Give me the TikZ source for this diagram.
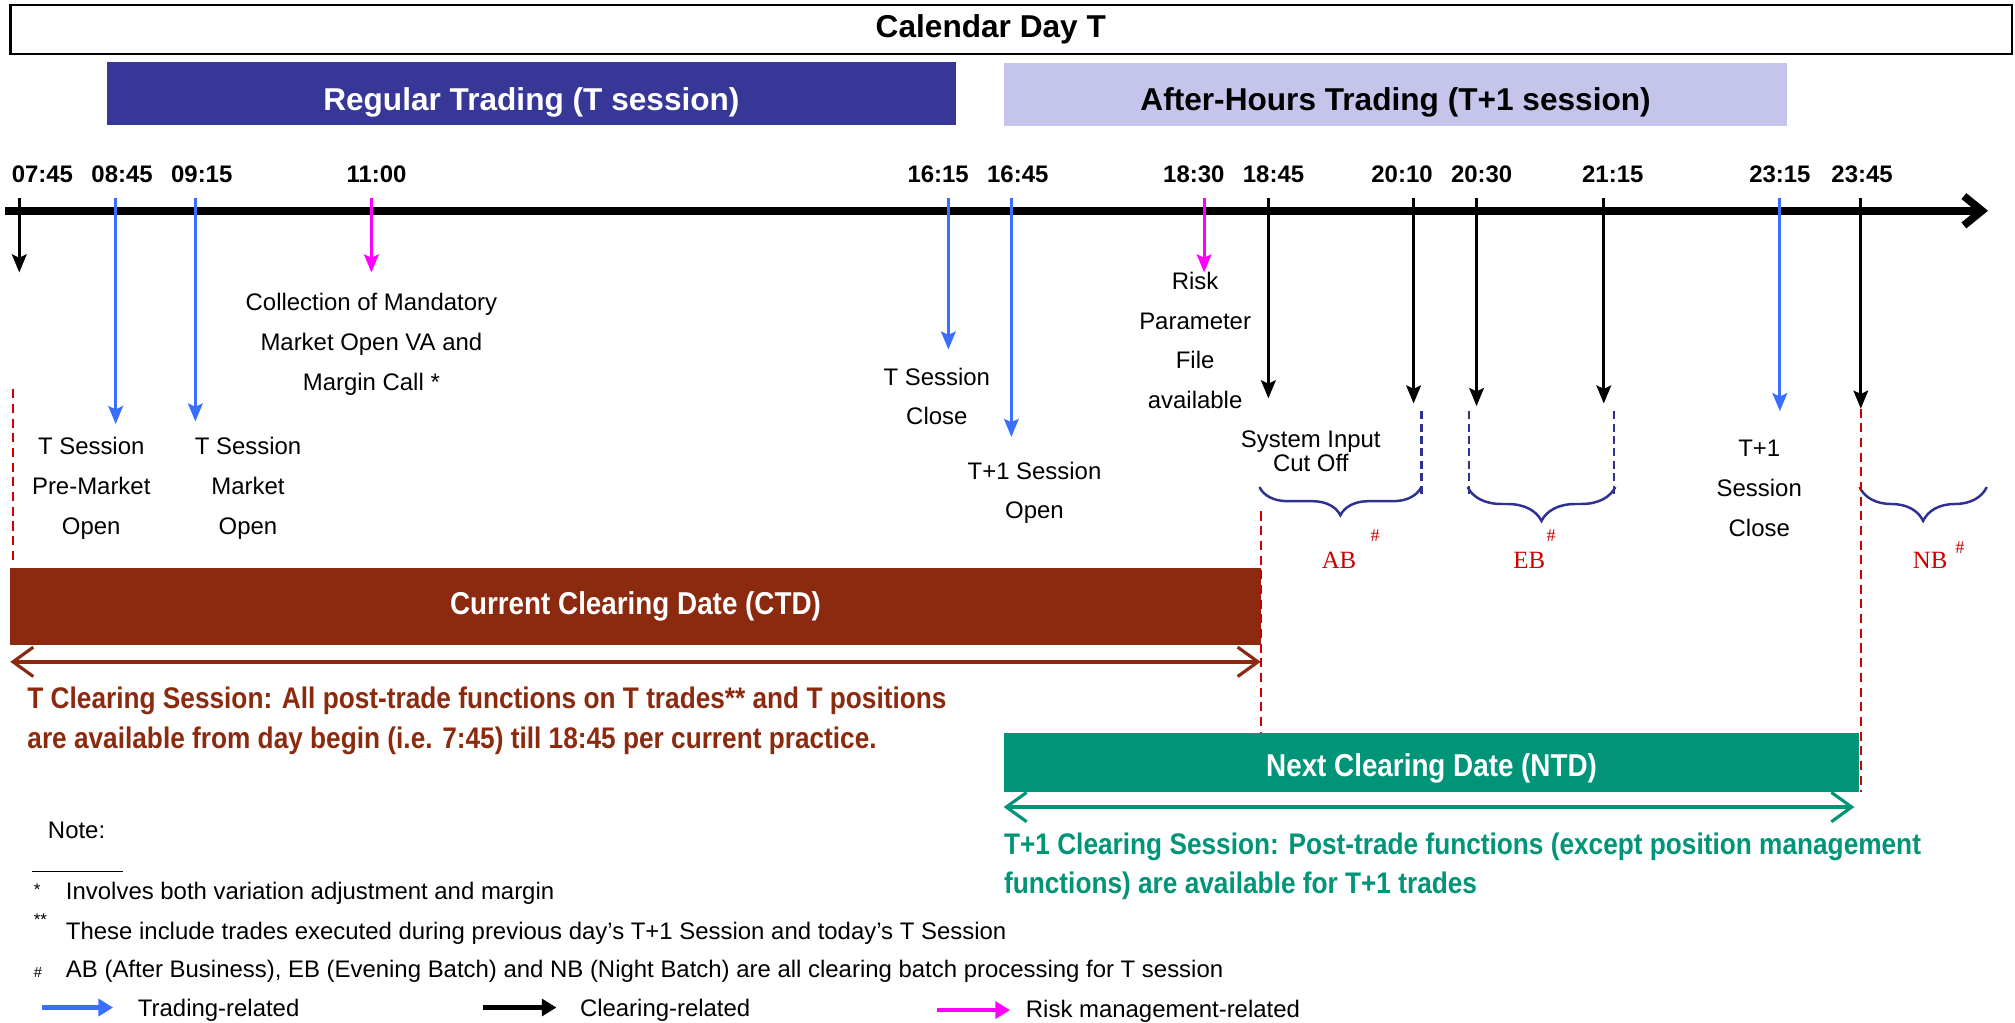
\documentclass[tikz,border=0pt]{standalone}
\usepackage{fontspec}
\setmainfont{Liberation Sans}
\newfontfamily\narrowfont[FakeStretch=0.88]{Liberation Sans}
\newfontfamily\batchfont{Liberation Serif}
\usetikzlibrary{positioning,calc,arrows.meta,decorations.pathreplacing}

\definecolor{regblue}{RGB}{55,55,151}
\definecolor{ahlav}{RGB}{197,197,235}
\definecolor{ctdbrown}{RGB}{139,42,14}
\definecolor{ntdgreen}{RGB}{0,148,120}
\definecolor{trdblue}{RGB}{58,110,255}
\definecolor{riskmag}{RGB}{255,0,255}
\definecolor{batchnavy}{RGB}{46,49,146}
\definecolor{batchred}{RGB}{204,0,0}

\begin{document}
\begin{tikzpicture}[x=0.02cm,y=-0.02cm,
band/.style={inner sep=0pt,outer sep=0pt,font=\bfseries\fontsize{14}{16}\selectfont},
clrband/.style={inner sep=0pt,outer sep=0pt,text=white,font=\narrowfont\bfseries\fontsize{14}{16}\selectfont},
clrnote/.style={anchor=west,align=left,inner sep=0pt,font=\narrowfont\bfseries\fontsize{13.2}{17.6}\selectfont},
evt/.style={align=center,inner sep=0pt,font=\fontsize{10.6}{17.6}\selectfont},
hour/.style={anchor=base,inner sep=0pt,font=\bfseries\fontsize{10.6}{12}\selectfont},
droparrow/.style={-{Stealth[length=8pt,width=6.5pt,inset=1.5pt]},line width=1.3pt},
clrspan/.style={{Straight Barb[length=9pt,width=13pt,line width=1.4pt]}-{Straight Barb[length=9pt,width=13pt,line width=1.4pt]},line width=2pt},
batchline/.style={batchnavy,line width=1.1pt,dash pattern=on 3.5pt off 2pt},
cutline/.style={batchred,line width=0.9pt,dash pattern=on 4pt off 2.5pt},
brc/.style={batchnavy,line width=1.1pt,decorate,decoration={brace,mirror,amplitude=#1}},
bname/.style={batchred,font=\batchfont\fontsize{11}{12}\selectfont,inner sep=0pt},
bsup/.style={batchred,font=\batchfont\fontsize{8}{8}\selectfont,inner sep=0pt},
foot/.style={anchor=west,inner sep=0pt,font=\fontsize{10.6}{12}\selectfont},
fnmark/.style={anchor=west,inner sep=0pt,font=\fontsize{7.5}{8}\selectfont},
legarrow/.style={-{Triangle[length=6.5pt,width=7.5pt]},line width=2pt}]
\useasboundingbox (0,0) rectangle (1568,796);

% header bands
\node[band,draw,line width=1pt,minimum width=31.16cm,minimum height=0.76cm] (calday) at (787,23) {\hspace*{-0.64cm}Calendar Day T};
\node[band,fill=regblue,text=white,minimum width=13.22cm,minimum height=0.98cm,text height=18pt,text depth=3pt] (regtrade) at (413.5,72.5) {Regular Trading (T session)};
\node[band,fill=ahlav,minimum width=12.2cm,minimum height=0.98cm,text height=17pt,text depth=3pt] (ahtrade) at (1086,73.5) {After-Hours Trading (T+1 session)};

% timeline
\coordinate (tlstart) at (4,164);
\coordinate (tlend) at (1547,164);
\draw[line width=3.4pt,-{Straight Barb[length=8pt,width=13pt]}] (tlstart) -- (tlend);

% times and event arrows
\foreach \tx/\ax/\ay/\col/\hh [count=\i] in {33/15/212/black/07:45, 95/90/330/trdblue/08:45,
  157/152/328/trdblue/09:15, 293/289/212/riskmag/11:00, 730/738/272/trdblue/16:15,
  792/787/340/trdblue/16:45, 929/937/212/riskmag/18:30, 991/987/310/black/18:45,
  1091/1100/314/black/20:10, 1153/1149/316/black/20:30, 1255/1248/314/black/21:15,
  1385/1385/320/trdblue/23:15, 1449/1448/318/black/23:45}{
  \node[hour] (hour\i) at (\tx,142) {\hh};
  \coordinate (drop\i) at (\ax,154);
  \coordinate (land\i) at (\ax,\ay);
  \draw[droparrow,\col] (drop\i) -- (land\i);
}

% event labels
\node[evt] (collect) at (289,268) {Collection of Mandatory\\Market Open VA and\\Margin Call *};
\node[evt] (premkt) at (71,380) {T Session\\Pre-Market\\Open};
\node[evt] (mktopen) at (193,380) {T Session\\Market\\Open};
\node[evt] (tclose) at (729,308.5) {T Session\\Close};
\node[evt] (toneopen) at (805,383.5) {T+1 Session\\Open};
\node[evt] (riskfile) at (930,265) {Risk\\Parameter\\File\\available};
\node[evt,font=\fontsize{10.6}{10.5}\selectfont] (sysinput) at (1020,351) {System Input\\Cut Off};
\node[evt] (toneclose) at (1369,380) {T+1\\Session\\Close};

% batch windows
\coordinate (abtop) at (1106,320); \coordinate (abbot) at (1106,386);
\coordinate (ebltop) at (1143,320); \coordinate (eblbot) at (1143,386);
\coordinate (ebrtop) at (1256,320); \coordinate (ebrbot) at (1256,386);
\draw[batchline] (abtop) -- (abbot);
\draw[batchline] (ebltop) -- (eblbot);
\draw[batchline] (ebrtop) -- (ebrbot);
\coordinate (abl) at (980,379); \coordinate (abr) at (1106,379);
\coordinate (ebl) at (1142,379); \coordinate (ebr) at (1257,379);
\coordinate (nbl) at (1447,379); \coordinate (nbr) at (1546,379);
\draw[brc=12.5pt] (abl) -- (abr);
\draw[brc=15pt] (ebl) -- (ebr);
\draw[brc=15pt] (nbl) -- (nbr);
\node[bname] (abname) at (1042,436) {AB};
\node[bsup] (absup) at (1070,417) {\#};
\node[bname] (ebname) at (1190,436) {EB};
\node[bsup] (ebsup) at (1207,417) {\#};
\node[bname] (nbname) at (1502,436) {NB};
\node[bsup] (nbsup) at (1525,426) {\#};

% clearing dates
\node[clrband,fill=ctdbrown,minimum width=19.46cm,minimum height=1.2cm] (ctd) at (494.5,472) {Current Clearing Date (CTD)};
\node[clrband,fill=ntdgreen,minimum width=13.32cm,minimum height=0.92cm,text height=16pt,text depth=3pt] (ntd) at (1114,593) {Next Clearing Date (NTD)};
\coordinate (ctdl) at (8,515); \coordinate (ctdr) at (981,515);
\coordinate (ntdl) at (781,628); \coordinate (ntdr) at (1443,628);
\draw[clrspan,ctdbrown] (ctdl) -- (ctdr);
\draw[clrspan,ntdgreen] (ntdl) -- (ntdr);
\node[clrnote,text=ctdbrown] (ctdnote) at (21,561) {T Clearing Session: All post-trade functions on T trades** and T positions\\are available from day begin (i.e. 7:45) till 18:45 per current practice.};
\node[clrnote,text=ntdgreen] (ntdnote) at (781,674) {T+1 Clearing Session: Post-trade functions (except position management\\functions) are available for T+1 trades};

% cut-off lines
\coordinate (cuta1) at (10,303); \coordinate (cuta2) at (10,440);
\coordinate (cutb1) at (981,398); \coordinate (cutb2) at (981,570);
\coordinate (cutc1) at (1448,318); \coordinate (cutc2) at (1448,616);
\draw[cutline] (cuta1) -- (cuta2);
\draw[cutline] (cutb1) -- (cutb2);
\draw[cutline] (cutc1) -- (cutc2);

% notes
\node[foot] (notehead) at (37,646) {Note:};
\coordinate (rulea) at (25,678); \coordinate (ruleb) at (96,678);
\draw[line width=0.6pt] (rulea) -- (ruleb);
\node[fnmark] (fn1mark) at (26,692) {*};
\node[foot] (fn1) at (51,695) {Involves both variation adjustment and margin};
\node[fnmark] (fn2mark) at (26,716) {**};
\node[foot] (fn2) at (51,726) {These include trades executed during previous day’s T+1 Session and today’s T Session};
\node[fnmark,font=\fontsize{6.5}{7}\selectfont] (fn3mark) at (26,757) {\#};
\node[foot] (fn3) at (51,756) {AB (After Business), EB (Evening Batch) and NB (Night Batch) are all clearing batch processing for T session};

% legend
\coordinate (lgta) at (33,784); \coordinate (lgtb) at (88,784);
\coordinate (lgca) at (376,784); \coordinate (lgcb) at (433,784);
\coordinate (lgra) at (729,786); \coordinate (lgrb) at (786,786);
\draw[legarrow,trdblue] (lgta) -- (lgtb);
\draw[legarrow,black] (lgca) -- (lgcb);
\draw[legarrow,riskmag] (lgra) -- (lgrb);
\node[foot] (lgtrade) at (107,786) {Trading-related};
\node[foot] (lgclear) at (451,786) {Clearing-related};
\node[foot] (lgrisk) at (798,787) {Risk management-related};
\end{tikzpicture}
\end{document}
